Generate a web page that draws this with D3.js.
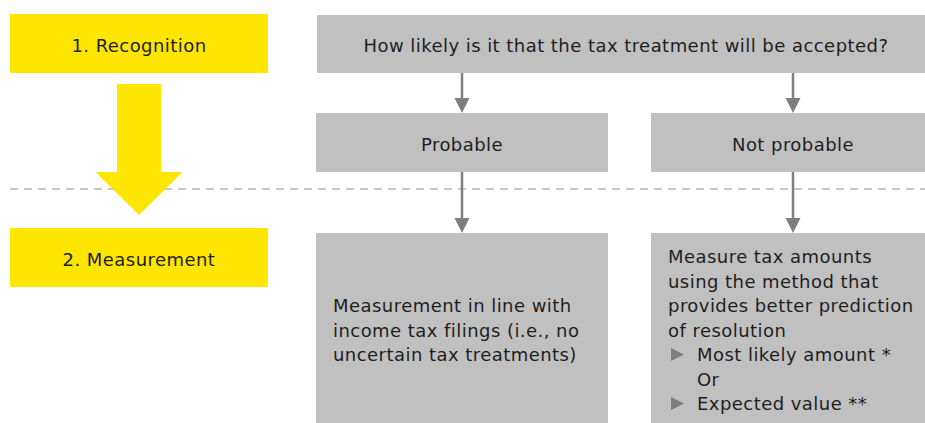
<!DOCTYPE html>
<head>
<meta charset="utf-8">
<style>
    body { margin: 0; background: #fff; }
    svg { display: block; }
    text { font-family: "DejaVu Sans", sans-serif; fill: #1e1e1e; letter-spacing: 0.45px; }
</style>
<script src="https://d3js.org/d3.v7.min.js"></script>
</head>
<body>
<script>
// labels of the two stages (yellow boxes on the left)
var stageLabels = ["1. Recognition", "2. Measurement"];
// the question box and its two answers
var questionLabel = "How likely is it that the tax treatment will be accepted?";
var outcomeLabels = ["Probable", "Not probable"];
// text in the two result boxes
var probableLines = ["Measurement in line with", "income tax filings (i.e., no", "uncertain tax treatments)"];
var notProbableLines = ["Measure tax amounts", "using the method that", "provides better prediction", "of resolution"];
var methodLabels = ["Most likely amount *", "Expected value **"];
var methodJoin = "Or";

var width = 925, height = 423;
var yellow = "#ffe600", grey = "#c0c0c0", arrowGrey = "#7f7f7f";
var fontSize = 18, lineH = 24.5;

var svg = d3.select("body").append("svg")
    .attr("width", width)
    .attr("height", height);

// layout: left stage column and two outcome columns
var stageX = [10, 268];
var colX = [[316, 608], [651, 935]];
var rowY = {
    top: [15, 73],
    mid: [113, 172],
    bottom: [233, 440],
    stage1: [14, 73],
    stage2: [228, 287]
};
var dividerY = 189;

// dashed divider between recognition and measurement
svg.append("line")
    .attr("x1", 10).attr("x2", width)
    .attr("y1", dividerY).attr("y2", dividerY)
    .attr("stroke", "#c8c8c8")
    .attr("stroke-width", 2)
    .attr("stroke-dasharray", "8,6");

// yellow stage boxes
var stageRows = [rowY.stage1, rowY.stage2];
svg.selectAll("g.stage")
    .data(stageLabels)
  .enter().append("g")
    .attr("class", "stage")
    .each(function(d, i) {
        var g = d3.select(this), r = stageRows[i];
        g.append("rect")
            .attr("x", stageX[0]).attr("y", r[0])
            .attr("width", stageX[1] - stageX[0]).attr("height", r[1] - r[0])
            .attr("fill", yellow);
        g.append("text")
            .attr("x", (stageX[0] + stageX[1]) / 2)
            .attr("y", (r[0] + r[1]) / 2 + 8)
            .attr("text-anchor", "middle")
            .style("font-size", fontSize + "px")
            .text(d);
    });

// big yellow arrow from recognition to measurement
var ax = (stageX[0] + stageX[1]) / 2;
svg.append("path")
    .attr("d", d3.line()([
        [ax - 22, 84], [ax + 22, 84], [ax + 22, 172], [ax + 43.5, 172],
        [ax, 215], [ax - 43.5, 172], [ax - 22, 172]
    ]) + "Z")
    .attr("fill", yellow);

// grey boxes
function box(x, y, text) {
    svg.append("rect")
        .attr("x", x[0]).attr("y", y[0])
        .attr("width", x[1] - x[0]).attr("height", y[1] - y[0])
        .attr("fill", grey);
    if (text) {
        svg.append("text")
            .attr("x", (x[0] + x[1]) / 2)
            .attr("y", (y[0] + y[1]) / 2 + 8)
            .attr("text-anchor", "middle")
            .style("font-size", fontSize + "px")
            .text(text);
    }
}

box([colX[0][0] + 1, colX[1][1]], rowY.top, questionLabel);
outcomeLabels.forEach(function(d, i) { box(colX[i], rowY.mid, d); });
box(colX[0], rowY.bottom);
box(colX[1], rowY.bottom);

// grey connector arrows
function arrow(x, y0, y1) {
    svg.append("line")
        .attr("x1", x).attr("x2", x)
        .attr("y1", y0).attr("y2", y1 - 14)
        .attr("stroke", arrowGrey)
        .attr("stroke-width", 2.5);
    svg.append("path")
        .attr("d", d3.line()([[x - 7.5, y1 - 15], [x + 7.5, y1 - 15], [x, y1]]) + "Z")
        .attr("fill", arrowGrey);
}
colX.forEach(function(c) {
    var cx = (c[0] + c[1]) / 2;
    arrow(cx, rowY.top[1], rowY.mid[0]);
    arrow(cx, rowY.mid[1], rowY.bottom[0]);
});

// probable result text
var pt = svg.append("text")
    .attr("x", colX[0][0] + 17)
    .attr("y", 312)
    .style("font-size", fontSize + "px");
pt.selectAll("tspan")
    .data(probableLines)
  .enter().append("tspan")
    .attr("x", colX[0][0] + 17)
    .attr("dy", function(d, i) { return i ? lineH : 0; })
    .text(function(d) { return d; });

// not probable result text with bullets
var npLines = notProbableLines.map(function(d) { return {text: d, indent: false, bullet: false}; })
    .concat([
        {text: methodLabels[0], indent: true, bullet: true},
        {text: methodJoin, indent: true, bullet: false},
        {text: methodLabels[1], indent: true, bullet: true}
    ]);
var npX = colX[1][0] + 17, npY = 263;
npLines.forEach(function(d, i) {
    var y = npY + i * lineH;
    svg.append("text")
        .attr("x", d.indent ? npX + 29 : npX)
        .attr("y", y)
        .style("font-size", fontSize + "px")
        .text(d.text);
    if (d.bullet) {
        svg.append("path")
            .attr("d", d3.line()([[npX + 3, y - 13], [npX + 16, y - 6.5], [npX + 3, y]]) + "Z")
            .attr("fill", arrowGrey);
    }
});
</script>
</body>
